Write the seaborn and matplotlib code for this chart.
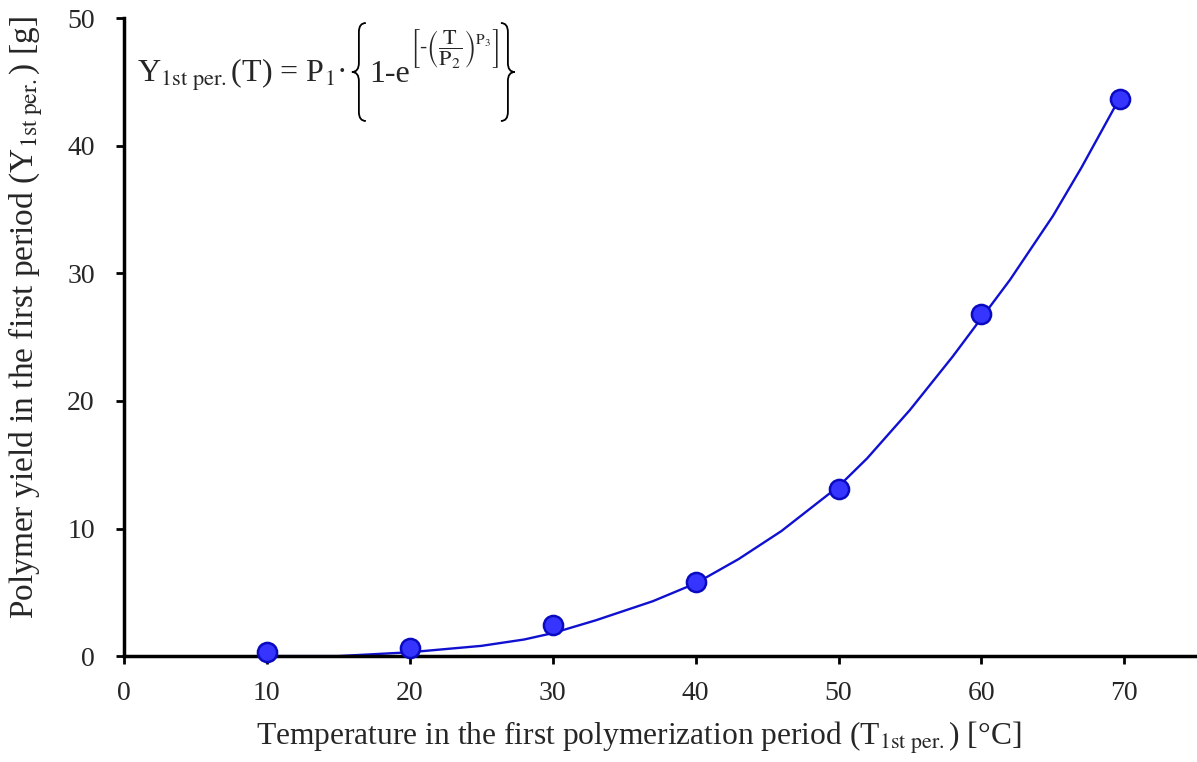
import matplotlib
matplotlib.use("Agg")
import matplotlib.pyplot as plt
import seaborn as sns
from matplotlib.path import Path
from matplotlib.patches import PathPatch
from matplotlib.transforms import IdentityTransform

# measured points
temp = [10, 20, 30, 40, 50, 60, 69.7]
yield_g = [0.3, 0.6, 2.4, 5.8, 13.1, 26.8, 43.7]

# fitted curve
fit_t = [10, 15, 20, 25, 28, 30, 33, 37, 40, 43, 46, 50, 52, 55, 58, 60, 62, 65, 67, 69.7]
fit_y = [0.0, 0.0, 0.3, 0.8, 1.3, 1.8, 2.8, 4.3, 5.7, 7.6, 9.8, 13.3, 15.5, 19.3, 23.5, 26.5, 29.5, 34.5, 38.3, 43.8]

x_ticks = [0, 10, 20, 30, 40, 50, 60, 70]
y_ticks = [0, 10, 20, 30, 40, 50]

sns.set_theme(style="white")
plt.rcParams["font.family"] = ["Liberation Serif", "DejaVu Serif"]
plt.rcParams["mathtext.fontset"] = "stix"

W, H = 1197, 762
fig = plt.figure(figsize=(W / 100, H / 100), dpi=100)
ax = fig.add_axes([0.1036, 0.139, 0.8954, 0.837])

sns.lineplot(x=fit_t, y=fit_y, ax=ax, color="#1010d0", linewidth=1.7, zorder=2)
sns.scatterplot(x=temp, y=yield_g, ax=ax, s=190, color="#3535ff",
                edgecolor="#0a0ac0", linewidth=1.8, zorder=3, clip_on=False)

ax.set_xlim(0, 75)
ax.set_ylim(0, 50)
ax.set_xticks(x_ticks)
ax.set_yticks(y_ticks)
ax.tick_params(axis="both", which="major", direction="out", length=6, width=2,
               color="black", labelsize=20, bottom=True, left=True)
ax.tick_params(axis="x", pad=12)
ax.tick_params(axis="y", pad=15)
for side in ["top", "right"]:
    ax.spines[side].set_visible(False)
for side in ["left", "bottom"]:
    ax.spines[side].set_color("black")
    ax.spines[side].set_linewidth(2.5)

ax.set_xlabel(r"Temperature in the first polymerization period (T$_{\mathrm{1st\ per.}}$) [°C]",
              fontsize=22.7)
ax.set_ylabel(r"Polymer yield in the first period (Y$_{\mathrm{1st\ per.}}$) [g]",
              fontsize=24)
ax.xaxis.set_label_coords(0.48, -0.100)
ax.yaxis.set_label_coords(-0.074, 0.53)

# formula, built piece by piece in pixel coordinates
fig.canvas.draw()
renderer = fig.canvas.get_renderer()
base = H - 82


def brace(x_left, width, y_top, y_bot, left=True):
    # thin curly brace drawn as a stroked path (pixel coords)
    yt, yb = H - y_top, H - y_bot
    ym = (yt + yb) / 2
    r = 9
    if left:
        xo, xc, xt = x_left + width, x_left + width / 2, x_left
    else:
        xo, xc, xt = x_left, x_left + width / 2, x_left + width
    verts = [(xo, yt), (xc, yt), (xc, yt - r),
             (xc, ym + r), (xc, ym), (xt, ym),
             (xc, ym), (xc, ym - r),
             (xc, yb + r), (xc, yb), (xo, yb)]
    codes = [Path.MOVETO, Path.CURVE3, Path.CURVE3,
             Path.LINETO, Path.CURVE3, Path.CURVE3,
             Path.CURVE3, Path.CURVE3,
             Path.LINETO, Path.CURVE3, Path.CURVE3]
    fig.add_artist(PathPatch(Path(verts, codes), facecolor="none", edgecolor="black",
                             lw=1.3, transform=IdentityTransform()))
    return x_left + width


t1 = fig.text(137 / W, base / H,
              r"Y$_{\mathrm{1st\ per.}}$(T) = P$_\mathrm{1}$·",
              fontsize=23, va="baseline", ha="left")
x = t1.get_window_extent(renderer).x1 + 6
x = brace(x, 14, 23, 121, left=True)
t2 = fig.text((x + 3) / W, base / H, "1-e", fontsize=23, va="baseline", ha="left")
x = t2.get_window_extent(renderer).x1
t3 = fig.text(x / W, (H - 48) / H,
              r"$\left[\text{-}\left(\dfrac{\mathrm{T}}{\mathrm{P_2}}\right)^{\mathrm{P_3}}\right]$",
              fontsize=16, va="center", ha="left")
x = t3.get_window_extent(renderer).x1 + 2
brace(x, 14, 23, 121, left=False)

fig.savefig("out.png", dpi=100)
